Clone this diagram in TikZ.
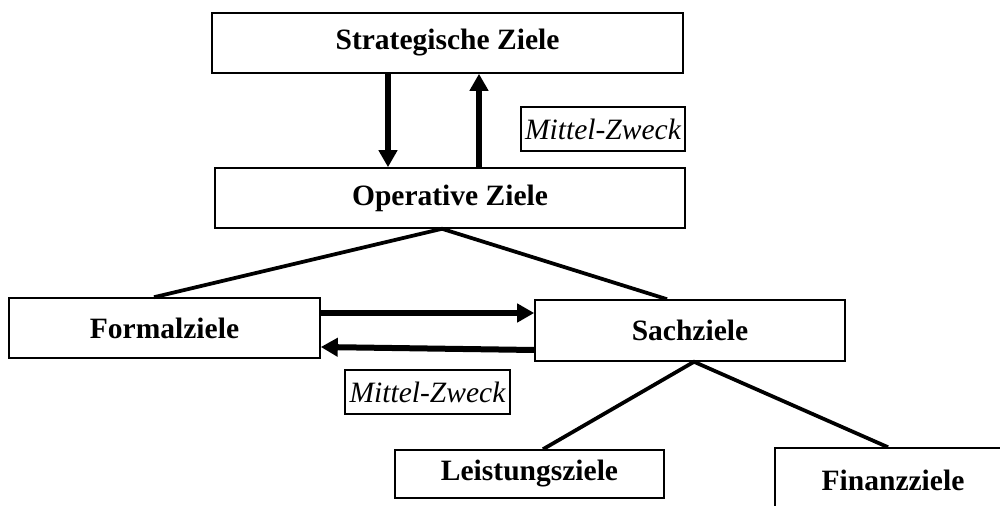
\documentclass[tikz,border=0pt]{standalone}
\usepackage{fontspec}
\setmainfont{Liberation Serif}
\usetikzlibrary{arrows.meta, positioning, calc}

\begin{document}
\begin{tikzpicture}[
  x=0.2mm, y=-0.2mm,
  zielbox/.style={draw, line width=0.9pt, inner sep=0pt, font=\fontsize{16.8pt}{20pt}\selectfont\bfseries},
  relbox/.style={draw, line width=0.8pt, inner sep=0pt, minimum width=32.8mm, minimum height=8.8mm, font=\fontsize{16.8pt}{20pt}\selectfont\itshape},
  bigarr/.style={line width=1.2mm, -{Triangle[width=3.6mm, length=3.4mm]}},
  ast/.style={line width=0.75mm},
]
\useasboundingbox (0,0) rectangle (1000,506);
\clip (0,0) rectangle (1000,506);

% Ebenen
\node[zielbox, minimum width=94.2mm, minimum height=12mm] (strat) at (447.5,43) {Strategische Ziele};
\node[zielbox, minimum width=94mm, minimum height=12mm] (oper) at (450,198) {Operative Ziele};

% Formal- und Sachziele
\node[zielbox, minimum width=62.2mm, minimum height=12mm] (formal) at (164.5,328) {Formalziele};
\node[zielbox, minimum width=62mm, minimum height=12.2mm] (sach) at (690,330.5) {Sachziele};

% Unterteilung der Sachziele
\node[zielbox, minimum width=53.8mm, minimum height=9.6mm] (leist) at (529.5,474) {Leistungsziele};
\node[zielbox, minimum width=47.2mm, minimum height=12.8mm] (finanz) at (893,480) {Finanzziele};

% Beziehungen
\node[relbox] (mz1) at (603,129) {Mittel-Zweck};
\node[relbox, minimum width=33mm] (mz2) at (427.5,392) {Mittel-Zweck};

% Pfeile oben
\draw[bigarr] ([xshift=-11.9mm]strat.south) -- ([xshift=-11.9mm]strat.south |- oper.north);
\draw[bigarr] ([xshift=5.8mm]oper.north) -- ([xshift=5.8mm]oper.north |- strat.south);

% Pfeile Mitte
\draw[bigarr] ([yshift=3mm]formal.east) -- ([yshift=3mm]formal.east -| sach.west);
\draw[bigarr] ([yshift=-3.9mm]sach.west) -- ([yshift=-3.8mm]formal.east);

% Verzweigungen
\draw[ast] ([xshift=-2.1mm]formal.north) -- ([xshift=-1.6mm]oper.south) -- ([xshift=-4.6mm]sach.north);
\draw[ast] ([xshift=2.7mm]leist.north) -- ([xshift=0.8mm]sach.south) -- ([xshift=-1mm]finanz.north);

\end{tikzpicture}
\end{document}
